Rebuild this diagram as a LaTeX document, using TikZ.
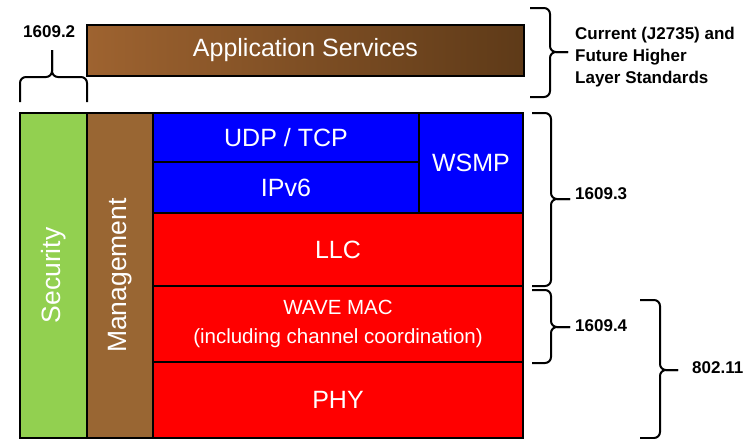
\documentclass[tikz,border=0pt]{standalone}
\usepackage{fontspec}
\setmainfont{Liberation Sans}
\definecolor{secgreen}{RGB}{146,208,80}
\definecolor{mgmtbrown}{RGB}{153,102,51}
\definecolor{appleft}{RGB}{158,99,48}
\definecolor{appright}{RGB}{94,58,24}
\definecolor{netblue}{RGB}{0,0,255}
\definecolor{macred}{RGB}{255,0,0}

\begin{document}
\begin{tikzpicture}[x=1pt, y=-1pt,
    layer/.style={draw=black, line width=2.5pt, text=white, inner sep=0pt, outer sep=0pt,
        anchor=north west, align=center, font=\fontsize{25}{30}\selectfont},
    bracket/.style={line width=2pt, rounded corners=6pt},
    stdlabel/.style={font=\fontsize{17}{22}\selectfont\bfseries, anchor=west, inner sep=0pt}]
    \useasboundingbox (0,0) rectangle (755,439);

    % higher layers
    \node[layer, left color=appleft, right color=appright, minimum width=437pt, minimum height=51pt] (app) at (87,25) {Application Services};

    % side planes
    \node[layer, fill=secgreen, rotate=90, anchor=center, minimum width=325pt, minimum height=67pt,
        font=\fontsize{26.5}{30}\selectfont] (sec) at (53.5,275.5) {Security};
    \node[layer, fill=mgmtbrown, rotate=90, anchor=center, minimum width=325pt, minimum height=66pt,
        font=\fontsize{26.5}{30}\selectfont] (mgmt) at (120,275.5) {Management};

    % network layers
    \node[layer, fill=netblue, minimum width=266pt, minimum height=49pt] (udp) at (153,113) {UDP / TCP};
    \node[layer, fill=netblue, minimum width=266pt, minimum height=51pt] (ipv) at (153,162) {IPv6};
    \node[layer, fill=netblue, minimum width=104pt, minimum height=100pt] (wsmp) at (419,113) {WSMP};

    % lower layers
    \node[layer, fill=macred, minimum width=370pt, minimum height=73pt] (llc) at (153,213) {LLC};
    \node[layer, fill=macred, minimum width=370pt, minimum height=76pt,
        font=\fontsize{20.5}{29}\selectfont] (mac) at (153,286) {WAVE MAC\\(including channel coordination)};
    \node[layer, fill=macred, minimum width=370pt, minimum height=76pt] (phy) at (153,362) {PHY};

    % standards
    \draw[bracket] (20,102) -- (20,77) -- (52,77) -- (52,50);
    \draw[bracket] (52,50) -- (52,77) -- (87,77) -- (87,102);
    \node[stdlabel] (std2) at (23,31.5) {1609.2};

    \draw[bracket] (530,8) -- (550,8) -- (550,52) -- (568,52);
    \draw[bracket] (568,52) -- (550,52) -- (550,97) -- (530,97);
    \node[stdlabel, align=left] (higher) at (575,57) {Current (J2735) and\\Future Higher\\Layer Standards};

    \draw[bracket] (532,113) -- (551,113) -- (551,199) -- (570,199);
    \draw[bracket] (570,199) -- (551,199) -- (551,286) -- (532,286);
    \node[stdlabel] (std3) at (575,194) {1609.3};

    \draw[bracket] (532,290) -- (551,290) -- (551,327) -- (570,327);
    \draw[bracket] (570,327) -- (551,327) -- (551,363) -- (532,363);
    \node[stdlabel] (std4) at (575,326) {1609.4};

    \draw[bracket] (640,300) -- (660,300) -- (660,370) -- (678,370);
    \draw[bracket] (678,370) -- (660,370) -- (660,438) -- (640,438);
    \node[stdlabel] (std11) at (692,368) {802.11};
\end{tikzpicture}
\end{document}
